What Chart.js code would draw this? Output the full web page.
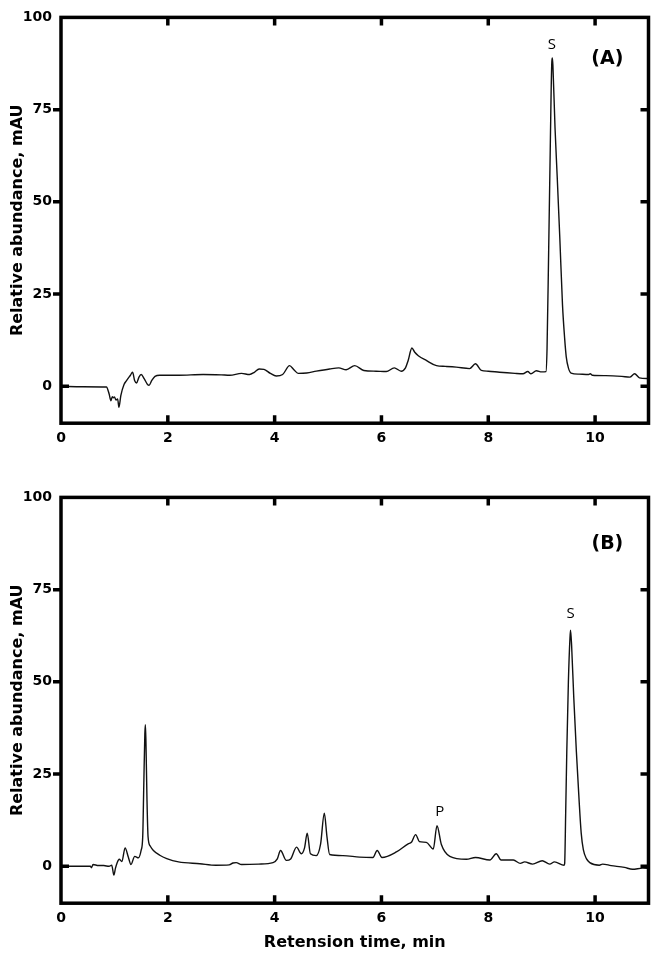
<!DOCTYPE html>
<html>
<head>
<meta charset="utf-8">
<script src="https://cdn.jsdelivr.net/npm/chart.js@4.4.1/dist/chart.umd.min.js"></script>
<style>
  html, body { margin: 0; padding: 0; background: #fff; }
  #wrap { position: relative; width: 658px; height: 957px; }
  canvas { position: absolute; left: 0; }
  #cA { top: 0; }
  #cB { top: 480px; }
</style>
</head>
<body>
<div id="wrap">
  <canvas id="cA" width="658" height="480"></canvas>
  <canvas id="cB" width="658" height="477"></canvas>
</div>
<script>
// ---- data ----
const xTicks = [0, 2, 4, 6, 8, 10];
const yTicks = [0, 25, 50, 75, 100];

const timesA = [0, 0.4, 0.85, 0.9, 0.935, 0.96, 0.98, 1.0, 1.03, 1.06, 1.085, 1.12, 1.18, 1.23, 1.3, 1.34, 1.38, 1.415, 1.46, 1.5, 1.56, 1.62, 1.65, 1.7, 1.76, 1.85, 2.2, 2.66, 3.0, 3.16, 3.38, 3.53, 3.62, 3.71, 3.8, 3.92, 4.03, 4.15, 4.28, 4.36, 4.44, 4.6, 4.78, 5.03, 5.2, 5.34, 5.5, 5.67, 5.9, 6.09, 6.24, 6.37, 6.45, 6.5, 6.57, 6.62, 6.69, 6.84, 7.03, 7.2, 7.4, 7.65, 7.76, 7.87, 8.0, 8.21, 8.5, 8.65, 8.74, 8.8, 8.9, 9.0, 9.08, 9.1, 9.13, 9.16, 9.19, 9.2, 9.21, 9.25, 9.29, 9.34, 9.39, 9.43, 9.46, 9.5, 9.55, 9.7, 9.88, 9.91, 9.95, 10.2, 10.5, 10.65, 10.74, 10.83, 11.0];
const valuesA = [0, -0.1, -0.2, -2.0, -3.9, -2.8, -3.1, -2.9, -3.7, -3.4, -5.7, -2.5, 0.5, 1.6, 3.0, 3.8, 1.5, 0.9, 2.5, 3.2, 2.0, 0.5, 0.3, 1.6, 2.7, 3.0, 3.0, 3.2, 3.1, 3.0, 3.5, 3.2, 3.8, 4.7, 4.6, 3.5, 2.8, 3.2, 5.6, 4.5, 3.5, 3.6, 4.1, 4.7, 5.0, 4.5, 5.6, 4.3, 4.1, 4.0, 5.0, 4.1, 5.0, 7.0, 10.4, 9.3, 8.3, 7.0, 5.6, 5.4, 5.2, 4.8, 6.1, 4.3, 4.1, 3.8, 3.5, 3.4, 4.0, 3.4, 4.2, 3.9, 4.0, 10, 36, 64, 88, 89, 87, 70, 57, 40, 22, 13, 8, 5, 3.6, 3.3, 3.2, 3.4, 3.0, 2.9, 2.7, 2.5, 3.4, 2.3, 2.1];

const timesB = [0, 0.3, 0.55, 0.57, 0.6, 0.7, 0.8, 0.9, 0.95, 0.99, 1.02, 1.05, 1.09, 1.14, 1.2, 1.26, 1.31, 1.38, 1.45, 1.5, 1.53, 1.55, 1.57, 1.58, 1.59, 1.61, 1.63, 1.67, 1.73, 1.85, 1.98, 2.2, 2.6, 2.9, 3.15, 3.22, 3.28, 3.38, 3.7, 3.97, 4.05, 4.11, 4.22, 4.3, 4.41, 4.5, 4.56, 4.61, 4.67, 4.78, 4.86, 4.93, 4.98, 5.03, 5.28, 5.59, 5.84, 5.92, 6.01, 6.28, 6.5, 6.56, 6.64, 6.71, 6.84, 6.97, 7.04, 7.12, 7.28, 7.59, 7.76, 8.03, 8.15, 8.24, 8.47, 8.6, 8.68, 8.83, 9.01, 9.15, 9.24, 9.42, 9.43, 9.45, 9.47, 9.5, 9.53, 9.54, 9.56, 9.6, 9.65, 9.7, 9.74, 9.78, 9.84, 9.9, 10.08, 10.14, 10.3, 10.55, 10.7, 10.89, 11.0];
const valuesB = [0, 0, 0, -0.4, 0.5, 0.2, 0.2, 0, 0.3, -2.4, -0.5, 0.9, 1.9, 1.3, 5.0, 2.5, 0.5, 2.7, 2.3, 4.3, 8, 22, 36, 38.4, 34, 18, 8, 5.5, 4.3, 3.0, 2.1, 1.2, 0.7, 0.3, 0.4, 0.9, 1.0, 0.5, 0.6, 1.0, 2.0, 4.3, 1.6, 2.0, 5.2, 3.4, 5.0, 9.0, 3.4, 2.9, 6, 14.4, 8, 3.2, 2.9, 2.5, 2.4, 4.3, 2.4, 3.9, 6.1, 6.5, 8.6, 6.7, 6.5, 4.7, 11.0, 6.0, 2.7, 1.9, 2.4, 1.7, 3.4, 1.7, 1.7, 0.8, 1.2, 0.6, 1.5, 0.6, 1.2, 0.3, 0.7, 15, 31, 50, 62, 64, 60, 46, 31, 18, 9, 4.5, 2, 1, 0.3, 0.6, 0.2, -0.3, -0.8, -0.5, -0.6];

const panelTitles = ['(A)', '(B)'];
const peakLabelsA = ['S'];
const peakLabelsB = ['S', 'P'];

// label anchors in data units (time, value)
const annotA = [{ text: peakLabelsA[0], t: 9.19, v: 92.6 }];
const annotB = [{ text: peakLabelsB[0], t: 9.54, v: 68.5 }, { text: peakLabelsB[1], t: 7.09, v: 14.9 }];
const panelAnchor = { t: 10.23 };
const panelV = [88.6, 87.4];

// ---- drawing ----
Chart.defaults.color = '#000';
Chart.defaults.font.family = '"DejaVu Sans", sans-serif';

const framePlugin = {
  id: 'frame',
  afterDraw(chart, args, opts) {
    const { ctx, chartArea: a, scales: { x, y } } = chart;
    ctx.save();
    ctx.strokeStyle = '#000';
    ctx.lineWidth = 3.5;
    ctx.lineCap = 'butt';
    ctx.strokeRect(a.left, a.top, a.right - a.left, a.bottom - a.top);
    ctx.beginPath();
    xTicks.forEach(v => {
      if (v <= x.min) return;
      const px = x.getPixelForValue(v);
      ctx.moveTo(px, a.top); ctx.lineTo(px, a.top + 8);
      ctx.moveTo(px, a.bottom); ctx.lineTo(px, a.bottom - 8);
    });
    yTicks.forEach(v => {
      if (v >= y.max) return;
      const py = y.getPixelForValue(v);
      if (v === 0) { ctx.moveTo(a.left, py); ctx.lineTo(a.left + 8, py); }
      else { ctx.moveTo(a.left - 8, py); ctx.lineTo(a.left, py); }
      ctx.moveTo(a.right, py); ctx.lineTo(a.right - 8, py);
    });
    ctx.stroke();

    // annotations
    ctx.fillStyle = '#000';
    ctx.textAlign = 'center';
    ctx.textBaseline = 'middle';
    ctx.font = '15px "Open Sans", sans-serif';
    (opts.annots || []).forEach(an => {
      ctx.fillText(an.text, x.getPixelForValue(an.t), y.getPixelForValue(an.v));
    });
    ctx.font = 'bold 19px "DejaVu Sans", sans-serif';
    ctx.fillText(opts.panel, x.getPixelForValue(panelAnchor.t), y.getPixelForValue(opts.panelV));
    ctx.restore();
  }
};

function makeChart(id, times, values, annots, panel, pV, canvasH, showTitle) {
  const data = times.map((t, i) => ({ x: t, y: values[i] }));
  return new Chart(document.getElementById(id), {
    type: 'line',
    data: {
      datasets: [{
        data: data,
        borderColor: '#111',
        borderWidth: 1.4,
        pointRadius: 0,
        fill: false,
        cubicInterpolationMode: 'monotone'
      }]
    },
    options: {
      responsive: false,
      animation: false,
      events: [],
      layout: { padding: { top: 14, right: 9.5, left: 0, bottom: 0 } },
      plugins: {
        legend: { display: false },
        tooltip: { enabled: false },
        frame: { annots: annots, panel: panel, panelV: pV }
      },
      scales: {
        x: {
          type: 'linear',
          min: 0, max: 11,
          afterBuildTicks: s => { s.ticks = xTicks.map(v => ({ value: v })); },
          afterFit: s => { s.height = canvasH - 14 - 409.2; },
          grid: { display: false, drawTicks: false },
          border: { display: false },
          ticks: { padding: 7, maxRotation: 0, autoSkip: false, font: { size: 14, weight: 'bold' } },
          title: {
            display: showTitle,
            text: 'Retension time, min',
            font: { size: 16, weight: 'bold' },
            padding: { top: 0, bottom: 5 }
          }
        },
        y: {
          type: 'linear',
          min: -10, max: 100,
          afterBuildTicks: s => { s.ticks = yTicks.map(v => ({ value: v })); },
          afterFit: s => { s.width = 61; },
          grid: { display: false, drawTicks: false },
          border: { display: false },
          ticks: { padding: 9, font: { size: 14, weight: 'bold' } },
          title: {
            display: true,
            text: 'Relative abundance, mAU',
            font: { size: 16, weight: 'bold' },
            padding: { top: 8, bottom: 0 }
          }
        }
      }
    },
    plugins: [framePlugin]
  });
}

makeChart('cA', timesA, valuesA, annotA, panelTitles[0], panelV[0], 480, false);
makeChart('cB', timesB, valuesB, annotB, panelTitles[1], panelV[1], 477, true);
</script>
</body>
</html>
